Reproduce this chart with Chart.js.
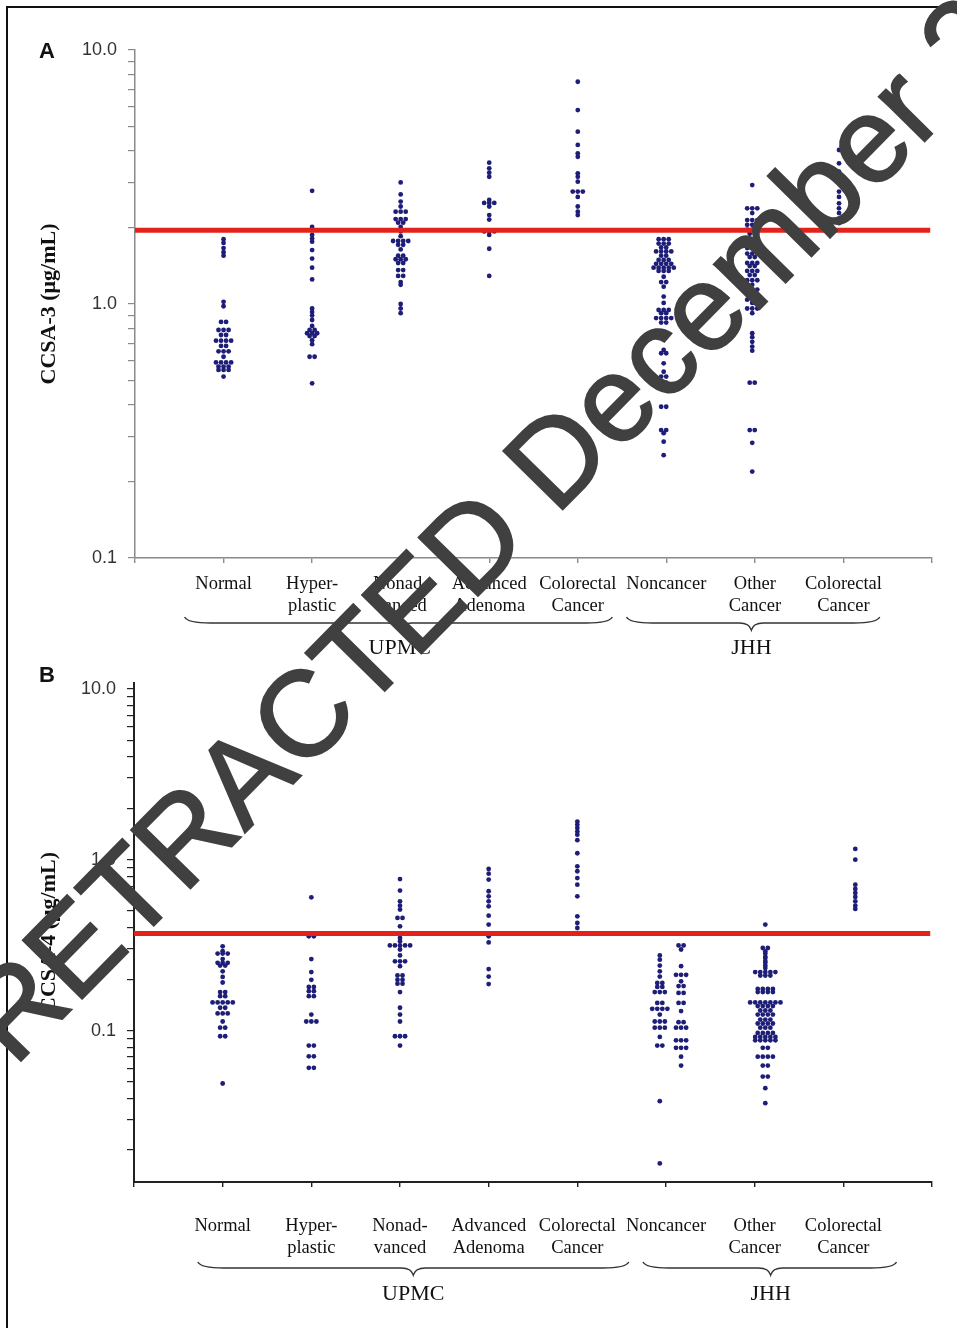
<!DOCTYPE html>
<html>
<head>
<meta charset="utf-8">
<title>CCSA-3 / CCSA-4</title>
<script src="https://cdn.jsdelivr.net/npm/chart.js@4.4.1/dist/chart.umd.min.js"></script>
<style>
  html, body { margin: 0; padding: 0; background: #fff; }
  #page { position: relative; width: 957px; height: 1328px; overflow: hidden; background: #fff; }
  #frame { position: absolute; left: 6px; top: 6px; width: 1000px; height: 1400px;
           border-left: 2px solid #111; border-top: 2px solid #111; }
  canvas { position: absolute; left: 0; }
  #chartA { top: 0; }
  #chartB { top: 665px; }
  .tag { position: absolute; font: bold 22px "Liberation Sans", Arial, sans-serif; line-height: 1; color: #111; }
  #stampWrap { position: absolute; left: 14px; top: 1068px; width: 0; height: 0;
               transform-origin: 0 0; transform: rotate(-45.5deg); }
  #stamp { position: absolute; left: 0; top: -102px; font: 121px "Liberation Sans", Arial, sans-serif;
           -webkit-text-stroke: 2px #404040;
           line-height: 1; color: #404040; white-space: nowrap; }
</style>
</head>
<body>
<div id="page">
  <div id="frame"></div>
  <canvas id="chartA" width="957" height="665"></canvas>
  <canvas id="chartB" width="957" height="663"></canvas>
  <div class="tag" style="left:39px;top:40px;">A</div>
  <div class="tag" style="left:39px;top:664px;">B</div>
  <div id="stampWrap"><div id="stamp">RETRACTED December 2</div></div>
</div>
<script>
// ---- data -------------------------------------------------------------
const categoryLabels = [['Normal'], ['Hyper-', 'plastic'], ['Nonad-', 'vanced'], ['Advanced', 'Adenoma'],
  ['Colorectal', 'Cancer'], ['Noncancer'], ['Other', 'Cancer'], ['Colorectal', 'Cancer']];
const groupLabels = ['UPMC', 'JHH'];
const xTickValues = [0, 1, 2, 3, 4, 5, 6, 7, 8, 9];
const yTicksA = [0.1, 0.2, 0.3, 0.4, 0.5, 0.6, 0.7, 0.8, 0.9, 1, 2, 3, 4, 5, 6, 7, 8, 9, 10];
const yTicksB = [0.02, 0.03, 0.04, 0.05, 0.06, 0.07, 0.08, 0.09, 0.1, 0.2, 0.3, 0.4, 0.5, 0.6, 0.7, 0.8, 0.9,
  1, 2, 3, 4, 5, 6, 7, 8, 9, 10];
const yLabelValues = [0.1, 1, 10];
const cutoffA = 1.95;   // CCSA-3 cut-off (ug/mL)
const cutoffB = 0.37;   // CCSA-4 cut-off (ug/mL)

// CCSA-3 (panel A)
const ccsa3Normal = [1.80, 1.74, 1.66, 1.60, 1.55, 1.02, 0.98, 0.85, 0.85, 0.79, 0.79, 0.79, 0.755, 0.755,
  0.717, 0.717, 0.717, 0.717, 0.684, 0.684, 0.651, 0.651, 0.651, 0.62, 0.589, 0.589, 0.589, 0.589,
  0.567, 0.567, 0.567, 0.55, 0.55, 0.55, 0.518];
const ccsa3Hyperplastic = [2.79, 2.01, 1.87, 1.81, 1.76, 1.63, 1.51, 1.39, 1.25, 0.96, 0.93, 0.90, 0.865,
  0.82, 0.79, 0.79, 0.767, 0.767, 0.767, 0.748, 0.748, 0.72, 0.695, 0.62, 0.62, 0.487];
const ccsa3Nonadvanced = [3.01, 2.70, 2.53, 2.42, 2.31, 2.31, 2.31, 2.16, 2.16, 2.16, 2.09, 2.09, 2.01, 1.93,
  1.85, 1.77, 1.77, 1.77, 1.77, 1.71, 1.71, 1.64, 1.55, 1.55, 1.50, 1.50, 1.50, 1.45, 1.45, 1.36, 1.36,
  1.29, 1.29, 1.22, 1.19, 1.0, 0.96, 0.92];
const ccsa3Advanced = [3.60, 3.42, 3.29, 3.17, 2.57, 2.50, 2.50, 2.50, 2.42, 2.24, 2.15, 1.93, 1.93, 1.93,
  1.87, 1.65, 1.29];
const ccsa3Colorectal = [7.50, 5.80, 4.77, 4.23, 3.92, 3.80, 3.27, 3.17, 3.03, 2.77, 2.77, 2.77, 2.64, 2.42,
  2.31, 2.24];
const ccsa3Noncancer = [1.80, 1.80, 1.80, 1.73, 1.73, 1.73, 1.67, 1.67, 1.61, 1.61, 1.61, 1.61, 1.55, 1.55,
  1.49, 1.49, 1.49, 1.44, 1.44, 1.44, 1.44, 1.39, 1.39, 1.39, 1.39, 1.39, 1.35, 1.35, 1.35, 1.28, 1.22,
  1.22, 1.17, 1.07, 1.01, 0.947, 0.947, 0.947, 0.92, 0.92, 0.88, 0.88, 0.88, 0.88, 0.845, 0.845, 0.743,
  0.743, 0.659, 0.64, 0.64, 0.584, 0.541, 0.518, 0.518, 0.49, 0.49, 0.394, 0.394, 0.319, 0.319, 0.31,
  0.287, 0.254];
const ccsa3OtherCancer = [2.94, 2.38, 2.38, 2.38, 2.28, 2.14, 2.14, 2.14, 2.05, 2.05, 2.05, 1.96, 1.96, 1.96,
  1.89, 1.89, 1.80, 1.80, 1.80, 1.73, 1.73, 1.73, 1.66, 1.66, 1.66, 1.58, 1.58, 1.58, 1.53, 1.53, 1.45,
  1.45, 1.45, 1.41, 1.41, 1.35, 1.35, 1.35, 1.30, 1.30, 1.24, 1.24, 1.24, 1.19, 1.14, 1.14, 1.14, 1.09,
  1.04, 1.04, 1.04, 1.01, 0.96, 0.96, 0.96, 0.92, 0.767, 0.74, 0.71, 0.68, 0.655, 0.49, 0.49, 0.319,
  0.319, 0.284, 0.219];
const ccsa3ColorectalJHH = [4.04, 3.58, 3.32, 3.08, 2.77, 2.64, 2.49, 2.38, 2.28, 2.17, 2.08];

// CCSA-4 (panel B)
const ccsa4Normal = [0.311, 0.291, 0.282, 0.282, 0.282, 0.262, 0.249, 0.249, 0.249, 0.24, 0.24, 0.222,
  0.206, 0.191, 0.168, 0.168, 0.159, 0.159, 0.146, 0.146, 0.146, 0.146, 0.146, 0.136, 0.136, 0.126,
  0.126, 0.126, 0.113, 0.104, 0.104, 0.0926, 0.0926, 0.049];
const ccsa4Hyperplastic = [0.602, 0.356, 0.356, 0.262, 0.22, 0.198, 0.18, 0.18, 0.17, 0.17, 0.159, 0.159,
  0.124, 0.113, 0.113, 0.113, 0.0817, 0.0817, 0.0707, 0.0707, 0.0605, 0.0605];
const ccsa4Nonadvanced = [0.77, 0.659, 0.57, 0.538, 0.51, 0.456, 0.456, 0.407, 0.348, 0.333, 0.315, 0.315,
  0.315, 0.315, 0.315, 0.298, 0.275, 0.254, 0.254, 0.254, 0.238, 0.21, 0.21, 0.198, 0.198, 0.188, 0.188,
  0.168, 0.136, 0.124, 0.113, 0.0926, 0.0926, 0.0926, 0.0817];
const ccsa4Advanced = [0.882, 0.828, 0.764, 0.653, 0.61, 0.57, 0.533, 0.47, 0.417, 0.356, 0.328, 0.229,
  0.207, 0.187];
const ccsa4Colorectal = [1.67, 1.60, 1.53, 1.46, 1.40, 1.30, 1.09, 0.914, 0.855, 0.78, 0.714, 0.61, 0.466,
  0.426, 0.398];
const ccsa4NoncancerLeft = [0.275, 0.26, 0.24, 0.222, 0.207, 0.19, 0.19, 0.18, 0.18, 0.168, 0.168, 0.168,
  0.145, 0.145, 0.134, 0.134, 0.134, 0.134, 0.124, 0.113, 0.113, 0.113, 0.104, 0.104, 0.104, 0.0918,
  0.0817, 0.0817, 0.0386, 0.0167];
const ccsa4NoncancerRight = [0.315, 0.315, 0.298, 0.238, 0.212, 0.212, 0.212, 0.194, 0.182, 0.182, 0.166,
  0.166, 0.145, 0.145, 0.13, 0.112, 0.112, 0.104, 0.104, 0.104, 0.0877, 0.0877, 0.0877, 0.0792, 0.0792,
  0.0792, 0.0703, 0.0624];
const ccsa4OtherCancer = [0.417, 0.304, 0.304, 0.29, 0.282, 0.27, 0.266, 0.255, 0.249, 0.24, 0.232,
  0.22, 0.22, 0.22, 0.22, 0.22, 0.21, 0.21, 0.21, 0.175, 0.175, 0.175, 0.175, 0.168, 0.168, 0.168, 0.168,
  0.146, 0.146, 0.146, 0.146, 0.146, 0.146, 0.146, 0.139, 0.139, 0.139, 0.139, 0.131, 0.131, 0.131,
  0.124, 0.124, 0.124, 0.124, 0.116, 0.116, 0.116, 0.11, 0.11, 0.11, 0.11, 0.104, 0.104, 0.104,
  0.0968, 0.0968, 0.0968, 0.0968, 0.0918, 0.0918, 0.0918, 0.0918, 0.0918, 0.0877, 0.0877, 0.0877,
  0.0877, 0.0877, 0.0792, 0.0792, 0.0703, 0.0703, 0.0703, 0.0703, 0.0624, 0.0624, 0.0538, 0.0538,
  0.046, 0.0376];
const ccsa4ColorectalJHH = [1.155, 1.0, 0.714, 0.674, 0.638, 0.605, 0.57, 0.538, 0.515];

// ---- look ------------------------------------------------------------
const DOT = '#1e1e78';
const RED = '#e3231b';
const SERIF = '"Liberation Serif", "Times New Roman", serif';
const SANS = '"Liberation Sans", Arial, sans-serif';
const SWARM_STEP = 0.057;   // horizontal spacing of tied points, in category units

// side-by-side placement of tied values around a column centre
function swarm(values, centre) {
  const counts = new Map();
  values.forEach(v => counts.set(v, (counts.get(v) || 0) + 1));
  const seen = new Map();
  return values.map(v => {
    const n = counts.get(v);
    const i = seen.get(v) || 0;
    seen.set(v, i + 1);
    return { x: centre + (i - (n - 1) / 2) * SWARM_STEP, y: v };
  });
}

// curly braces + group names under the category labels
const bracePlugin = {
  id: 'braces',
  afterDraw(chart, args, opts) {
    const { ctx, scales: { x }, chartArea } = chart;
    const base = chartArea.bottom;
    ctx.save();
    ctx.strokeStyle = '#333';
    ctx.lineWidth = 1.4;
    ctx.fillStyle = '#111';
    ctx.font = '22px ' + SERIF;
    ctx.textAlign = 'center';
    ctx.textBaseline = 'middle';
    opts.groups.forEach((g, i) => {
      const x0 = x.getPixelForValue(g.from), x1 = x.getPixelForValue(g.to), xt = x.getPixelForValue(g.tip);
      const yEnd = base + opts.endY, yMid = base + opts.midY, yTip = base + opts.tipY;
      ctx.beginPath();
      ctx.moveTo(x0, yEnd);
      ctx.quadraticCurveTo(x0 + 3, yMid, x0 + 26, yMid);
      ctx.lineTo(xt - 12, yMid);
      ctx.quadraticCurveTo(xt - 2, yMid, xt, yTip);
      ctx.quadraticCurveTo(xt + 2, yMid, xt + 12, yMid);
      ctx.lineTo(x1 - 26, yMid);
      ctx.quadraticCurveTo(x1 - 3, yMid, x1, yEnd);
      ctx.stroke();
      ctx.fillText(groupLabels[i], xt, base + opts.labelY);
    });
    ctx.restore();
  }
};

function makePanel(p) {
  const datasets = [{
    type: 'line', order: 0,
    data: [{ x: 0, y: p.cutoff }, { x: 8.98, y: p.cutoff }],
    borderColor: RED, borderWidth: 5, pointRadius: 0, fill: false
  }];
  p.columns.forEach(([cat, values, shift]) => {
    datasets.push({
      type: 'scatter', order: 1,
      data: swarm(values, cat + shift),
      backgroundColor: DOT, borderWidth: 0, pointRadius: 2.4, pointHoverRadius: 2.4
    });
  });

  return new Chart(document.getElementById(p.canvas), {
    data: { datasets },
    plugins: [bracePlugin],
    options: {
      responsive: false, animation: false, devicePixelRatio: 1,
      layout: { padding: p.padding },
      plugins: { legend: { display: false }, tooltip: { enabled: false }, braces: p.braces },
      scales: {
        x: {
          type: 'linear', min: 0, max: 9,
          afterBuildTicks: s => { s.ticks = xTickValues.map(v => ({ value: v })); },
          afterFit: s => { s.height = p.xHeight; s.paddingLeft = 0; s.paddingRight = 0; },
          grid: { drawOnChartArea: false, drawTicks: true, tickLength: 5, color: p.axisColor, lineWidth: 1.4 },
          border: { color: p.axisColor, width: p.axisWidth },
          ticks: {
            autoSkip: false, maxRotation: 0, minRotation: 0, padding: p.labelPad, color: '#111',
            font: { family: SERIF, size: 18.5, lineHeight: 1.2 },
            callback: v => categoryLabels[v - 1] || ''
          }
        },
        y: {
          type: 'logarithmic', min: p.min, max: p.max,
          afterBuildTicks: s => { s.ticks = p.ticks.map(v => ({ value: v })); },
          afterFit: s => { s.width = p.yWidth; s.paddingTop = 0; s.paddingBottom = 0; },
          grid: { drawOnChartArea: false, drawTicks: true, tickLength: 7, color: p.axisColor, lineWidth: 1.2 },
          border: { color: p.axisColor, width: p.axisWidth },
          ticks: {
            autoSkip: false, padding: 11, color: '#333',
            font: { family: SANS, size: 18 },
            callback: v => yLabelValues.includes(v) ? v.toFixed(1) : ''
          },
          title: {
            display: true, text: p.title, color: '#111', padding: { top: 0, bottom: 0 },
            font: { family: SERIF, size: 22, weight: 'bold' }
          }
        }
      }
    }
  });
}

makePanel({
  canvas: 'chartA', title: 'CCSA-3 (μg/mL)', min: 0.1, max: 10, ticks: yTicksA, cutoff: cutoffA,
  padding: { left: 36, top: 50, right: 25, bottom: 37 }, yWidth: 99, xHeight: 70, labelPad: 10,
  axisColor: '#8a8a8a', axisWidth: 1.5,
  columns: [
    [1, ccsa3Normal, 0], [2, ccsa3Hyperplastic, 0], [3, ccsa3Nonadvanced, 0], [4, ccsa3Advanced, 0],
    [5, ccsa3Colorectal, 0], [6, ccsa3Noncancer, -0.03], [7, ccsa3OtherCancer, -0.03], [8, ccsa3ColorectalJHH, -0.05]
  ],
  braces: {
    endY: 59, midY: 65, tipY: 72, labelY: 90,
    groups: [{ from: 0.56, to: 5.39, tip: 2.99 }, { from: 5.55, to: 8.41, tip: 6.96 }]
  }
});

makePanel({
  canvas: 'chartB', title: 'CCSA-4 (μg/mL)', min: 0.013, max: 10.8, ticks: yTicksB, cutoff: cutoffB,
  padding: { left: 36, top: 18, right: 25, bottom: 66 }, yWidth: 98, xHeight: 80, labelPad: 28,
  axisColor: '#222', axisWidth: 2,
  columns: [
    [1, ccsa4Normal, 0], [2, ccsa4Hyperplastic, 0], [3, ccsa4Nonadvanced, 0], [4, ccsa4Advanced, 0],
    [5, ccsa4Colorectal, 0], [6, ccsa4NoncancerLeft, -0.07], [6, ccsa4NoncancerRight, 0.17],
    [7, ccsa4OtherCancer, 0.12], [8, ccsa4ColorectalJHH, 0.135]
  ],
  braces: {
    endY: 80, midY: 86, tipY: 93, labelY: 112,
    groups: [{ from: 0.72, to: 5.58, tip: 3.15 }, { from: 5.74, to: 8.60, tip: 7.18 }]
  }
});
</script>
</body>
</html>
